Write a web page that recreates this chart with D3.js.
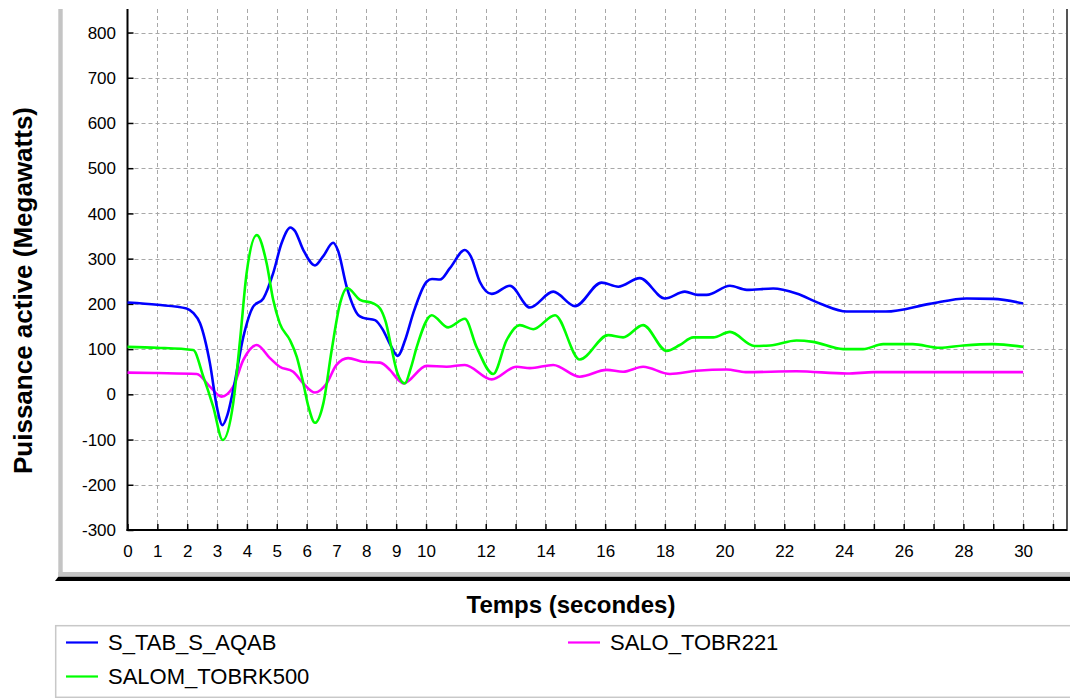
<!DOCTYPE html>
<html><head><meta charset="utf-8">
<script src="https://cdn.jsdelivr.net/npm/d3@7/dist/d3.min.js"></script>
<style>
html,body{margin:0;padding:0;background:#fff;}
svg{display:block;}
text{font-family:"Liberation Sans",Arial,sans-serif;fill:#000;}
</style></head>
<body>
<script>
// ---- data ----
const seriesNames = ["S_TAB_S_AQAB", "SALOM_TOBRK500", "SALO_TOBR221"];
const seriesColors = ["#0000ff", "#00ff00", "#ff00ff"];

const blueT = [0,1,1.98,2.2,2.43,2.76,3.0,3.18,3.35,3.54,3.88,4.21,4.55,4.88,5.16,5.46,5.6,5.89,6.28,6.55,6.89,7.05,7.34,7.73,7.9,8.29,8.56,8.8,9.05,9.3,9.57,10.02,10.2,10.47,10.8,11.3,11.5,11.8,12.2,12.81,13.48,14.26,14.99,15.88,16.44,17.16,18.0,18.67,19.1,19.4,20.18,20.74,21.63,22.41,23.19,24.09,25.4,26.87,28.1,29.0,30];
const blueV = [203,198,190,180,157,69,-30,-68,-45,9,127,194,212,268,334,369,362,319,285,305,335,318,238,175,169,164,142,110,85,120,179,249,255,254,279,319,305,249,222,240,192,227,195,247,238,257,212,227,220,220,240,231,234,223,201,183,183,200,212,211,201];

const greenT = [0,1,2.2,2.54,2.87,3.19,3.54,3.77,3.99,4.33,4.66,4.88,5.1,5.44,5.67,5.89,6.06,6.28,6.56,6.84,7.12,7.36,7.79,8.23,8.46,8.65,8.85,9.05,9.29,9.5,9.69,10.19,10.74,11.3,11.69,12.25,12.7,13.14,13.59,14.32,15.15,16.1,16.6,17.27,18.06,18.5,18.95,19.62,20.18,21.0,21.52,22.41,22.97,23.97,24.64,25.31,26.3,27.2,28.0,29.0,30];
const greenV = [105,103,98,39,-27,-101,-20,120,268,352,290,209,157,120,83,24,-27,-63,-20,98,201,235,209,201,190,160,100,45,24,60,105,175,148,167,105,45,120,153,144,175,77,131,126,153,96,109,126,126,138,107,108,119,116,100,100,111,111,103,108,111,105];

const magT = [0,1,2.32,2.76,3.15,3.54,3.88,4.33,4.77,5.1,5.55,5.89,6.28,6.67,7.0,7.39,7.9,8.46,8.79,9.07,9.24,10.02,10.69,11.3,12.2,13.03,13.48,14.26,15.15,16.05,16.6,17.27,18.17,19.06,20.07,20.7,22.4,24.1,25,30];
const magV = [48,47,45,17,-5,17,76,109,80,61,50,24,4,24,65,80,72,70,54,32,24,63,61,65,33,61,58,65,39,54,50,61,45,52,55,49,51,46,49,49];

const yTicks = [-300,-200,-100,0,100,200,300,400,500,600,700,800];
const xTicks = d3.range(0, 32);
const xTickLabels = [0,1,2,3,4,5,6,7,8,9,10,12,14,16,18,20,22,24,26,28,30];

const yTitle = "Puissance active (Megawatts)";
const xTitle = "Temps (secondes)";

// ---- layout ----
const W = 1070, H = 698;
const svg = d3.select("body").append("svg").attr("width", W).attr("height", H);

const x = d3.scaleLinear().domain([0, 31.47]).range([127.5, 1067]);
const y = d3.scaleLinear().domain([-300, 852]).range([530, 9]);

// panel frame
svg.append("rect").attr("x", 58.3).attr("y", 9).attr("width", 4.4).attr("height", 567).attr("fill", "#c4c4c4");
svg.append("rect").attr("x", 58.3).attr("y", 572).attr("width", W - 58.3).attr("height", 4.7).attr("fill", "#c4c4c4");
svg.append("path").attr("d", `M55,581 L58.3,576.7 L${W},576.7 L${W},581 Z`).attr("fill", "#000");

// grid
const grid = svg.append("g").attr("stroke", "#a8a8a8").attr("stroke-width", 1).attr("stroke-dasharray", "4,3");
grid.selectAll("line.h").data(yTicks.filter(d => d > -300)).enter().append("line")
  .attr("x1", x(0)).attr("x2", 1067).attr("y1", d => Math.round(y(d)) + 0.5).attr("y2", d => Math.round(y(d)) + 0.5);
grid.selectAll("line.v").data(xTicks.filter(d => d > 0)).enter().append("line")
  .attr("y1", 9).attr("y2", 530).attr("x1", d => Math.round(x(d)) + 0.5).attr("x2", d => Math.round(x(d)) + 0.5);

// right border
svg.append("line").attr("x1", 1067).attr("x2", 1067).attr("y1", 9).attr("y2", 531).attr("stroke", "#555").attr("stroke-width", 2);

// axes
const yAxis = d3.axisRight(y).tickValues(yTicks).tickSize(6).tickFormat("");
const gy = svg.append("g").attr("transform", `translate(${x(0)},0)`).call(yAxis);
gy.select(".domain").attr("stroke", "#000").attr("stroke-width", 2).attr("d", `M0,9V531`);
gy.selectAll(".tick line").attr("stroke", "#000").attr("stroke-width", 1.5);

const xAxis = d3.axisTop(x).tickValues(xTicks).tickSize(6).tickFormat("");
const gx = svg.append("g").attr("transform", `translate(0,530)`).call(xAxis);
gx.select(".domain").attr("stroke", "#000").attr("stroke-width", 2).attr("d", `M${x(0) - 1},0H1067`);
gx.selectAll(".tick line").attr("stroke", "#000").attr("stroke-width", 1.5);

// tick labels
svg.append("g").selectAll("text").data(yTicks).enter().append("text")
  .attr("x", 116).attr("y", d => y(d)).attr("dy", "0.36em")
  .attr("text-anchor", "end").attr("font-size", 17).text(d => d);
svg.append("g").selectAll("text").data(xTickLabels).enter().append("text")
  .attr("x", d => x(d) + 0.5).attr("y", 556.5)
  .attr("text-anchor", "middle").attr("font-size", 17).text(d => d);

// titles
svg.append("text").attr("transform", "translate(31.5,290.5) rotate(-90)")
  .attr("text-anchor", "middle").attr("font-size", 26).attr("font-weight", "bold").text(yTitle);
svg.append("text").attr("x", 571).attr("y", 612.5)
  .attr("text-anchor", "middle").attr("font-size", 24).attr("font-weight", "bold").text(xTitle);

// series
const seriesData = [
  blueT.map((t, i) => [t, blueV[i]]),
  greenT.map((t, i) => [t, greenV[i]]),
  magT.map((t, i) => [t, magV[i]])
];
const line = d3.line().x(d => x(d[0])).y(d => y(d[1])).curve(d3.curveMonotoneX);
const drawOrder = [2, 0, 1];
svg.append("g").attr("fill", "none").attr("stroke-width", 2.6).attr("stroke-linejoin", "round")
  .selectAll("path").data(drawOrder).enter().append("path")
  .attr("stroke", i => seriesColors[i]).attr("d", i => line(seriesData[i]));

// legend
svg.append("rect").attr("x", 55.7).attr("y", 625.7).attr("width", W - 55.7 + 2).attr("height", 71.6)
  .attr("fill", "none").attr("stroke", "#c8c8c8").attr("stroke-width", 1.5);
const legendPos = [[66, 642.5], [66, 676.5], [568, 642.5]];
const lg = svg.append("g").selectAll("g").data(seriesNames).enter().append("g")
  .attr("transform", (d, i) => `translate(${legendPos[i][0]},${legendPos[i][1]})`);
lg.append("line").attr("x1", 0).attr("x2", 32).attr("y1", 0).attr("y2", 0)
  .attr("stroke", (d, i) => seriesColors[i]).attr("stroke-width", 2.2);
lg.append("text").attr("x", 42).attr("y", 0).attr("dy", "0.36em").attr("font-size", 22).text(d => d);
</script>
</body></html>
